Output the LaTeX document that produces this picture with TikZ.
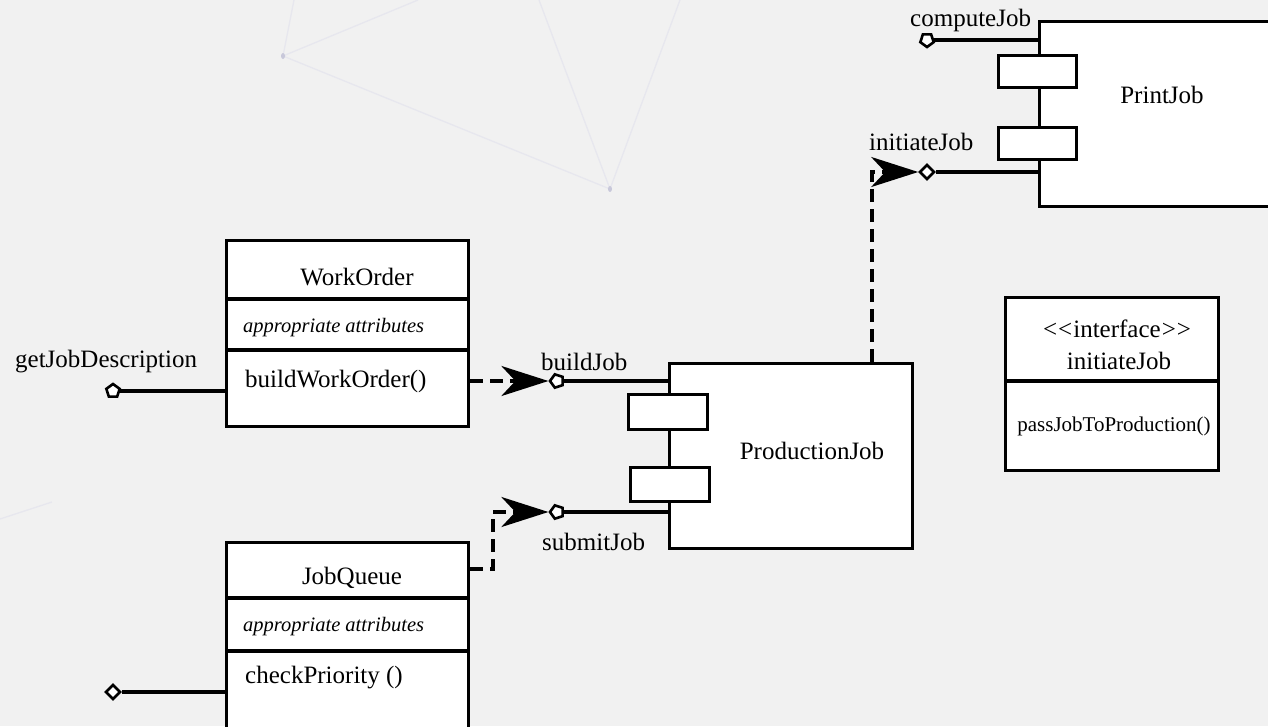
\documentclass[tikz,border=0pt]{standalone}
\usepackage{fontspec}
\setmainfont{Liberation Serif}
\usetikzlibrary{shapes.geometric,arrows.meta,calc}
\definecolor{bg}{RGB}{241,241,241}
\definecolor{faint}{RGB}{231,231,238}
\definecolor{faintdot}{RGB}{200,200,218}
\begin{document}
\begin{tikzpicture}[x=1pt,y=-1pt,
  box/.style={draw=black,fill=white,line width=3.2pt,inner sep=0pt,anchor=north west},
  port/.style={draw=black,fill=white,line width=2.6pt,regular polygon,regular polygon sides=5,minimum size=14pt,inner sep=0pt},
  dport/.style={draw=black,fill=white,line width=2.6pt,diamond,minimum width=15pt,minimum height=15pt,inner sep=0pt},
  wire/.style={line width=3.2pt},
  dep/.style={line width=3.2pt,dash pattern=on 13pt off 7pt,-{Stealth[length=47pt,width=30pt,inset=14pt]}},
  lbl/.style={font=\fontsize{25}{29}\selectfont,inner sep=0pt},
  attr/.style={font=\itshape\fontsize{20.5}{24}\selectfont,inner sep=0pt,anchor=west},
  bgline/.style={draw=faint,line width=1.3pt}
]
\useasboundingbox (0,0) rectangle (1268,726);
\clip (0,0) rectangle (1268,726);
\fill[bg] (0,0) rectangle (1268,726);

% faint background network
\draw[bgline] (283,56) -- (294,0);
\draw[bgline] (283,56) -- (418,0);
\draw[bgline] (283,56) -- (610,189);
\draw[bgline] (539,0) -- (610,189);
\draw[bgline] (680,0) -- (610,189);
\draw[bgline] (0,519) -- (52,502);
\fill[faintdot] (283,56) ellipse (2pt and 3pt);
\fill[faintdot] (610,189) ellipse (2pt and 3pt);

% ports
\node[port] (pGet) at (113,391) {};
\node[dport] (pChk) at (113,692) {};
\node[port,shape border rotate=90] (pBuild) at (557,381) {};
\node[port,shape border rotate=90] (pSub) at (557,512) {};
\node[port,shape border rotate=180] (pComp) at (927,40) {};
\node[dport] (pInit) at (927,172) {};

% class boxes
\node[box,minimum width=242pt,minimum height=186pt] (wo) at (225,239) {};
\draw[wire] ($(wo.north west)+(0,60)$) -- ($(wo.north east)+(0,60)$);
\draw[wire] ($(wo.north west)+(0,111)$) -- ($(wo.north east)+(0,111)$);
\node[lbl] (woT) at (357,277) {WorkOrder};
\node[attr] (woA) at (243,328) {appropriate attributes};
\node[lbl,anchor=west] (woM) at (245,381) {buildWorkOrder()};

\node[box,minimum width=242pt,minimum height=200pt] (jq) at (225,541) {};
\draw[wire] ($(jq.north west)+(0,57)$) -- ($(jq.north east)+(0,57)$);
\draw[wire] ($(jq.north west)+(0,110)$) -- ($(jq.north east)+(0,110)$);
\node[lbl] (jqT) at (352,578) {JobQueue};
\node[attr] (jqA) at (243,627) {appropriate attributes};
\node[lbl,anchor=west] (jqM) at (245,678) {checkPriority ()};

\node[box,minimum width=213pt,minimum height=173pt] (ifc) at (1004,296) {};
\draw[wire] ($(ifc.north west)+(0,85)$) -- ($(ifc.north east)+(0,85)$);
\node[lbl] (ifS) at (1117,329) {<\kern1pt<\kern1pt interface\kern1pt>\kern1pt>};
\node[lbl] (ifT) at (1119,361) {initiateJob};
\node[font=\fontsize{21}{25}\selectfont,inner sep=0pt] (ifM) at (1114,426) {passJobToProduction()};

% components
\node[box,minimum width=243pt,minimum height=185pt] (pj) at (668,362) {};
\node[box,minimum width=79pt,minimum height=35pt] (pj1) at (627,393) {};
\node[box,minimum width=79pt,minimum height=34pt] (pj2) at (629,466) {};
\node[lbl] (pjT) at (812,451) {ProductionJob};

\node[box,minimum width=260pt,minimum height=185pt] (prj) at (1038,20) {};
\node[box,minimum width=78pt,minimum height=32pt] (pr1) at (997,54) {};
\node[box,minimum width=78pt,minimum height=32pt] (pr2) at (997,126) {};
\node[lbl] (prT) at (1162,95) {PrintJob};

% wires
\draw[wire] (pGet) -- (pGet -| wo.west);
\draw[wire] (pChk) -- (pChk -| jq.west);
\draw[wire] (pBuild) -- (pBuild -| pj.west);
\draw[wire] (pSub) -- (pSub -| pj.west);
\draw[wire] (pComp) -- (pComp -| prj.west);
\draw[wire] (pInit) -- (pInit -| prj.west);

% dependencies
\draw[dep] (wo.east |- pBuild) -- (pBuild);
\coordinate (c1) at (493,569);
\draw[dep] (jq.east |- c1) -- (c1) -- (c1 |- pSub) -- (pSub);
\coordinate (c2) at (872,172);
\draw[dep] (c2 |- pj.north) -- (c2) -- (pInit);

% port labels
\node[lbl,anchor=west] (lGet) at (15,362) {getJobDescription};
\node[lbl,anchor=west] (lBuild) at (541,362) {buildJob};
\node[lbl,anchor=west] (lSub) at (542,542) {submitJob};
\node[lbl,anchor=west] (lComp) at (910,20) {computeJob};
\node[lbl,anchor=west] (lInit) at (869,142) {initiateJob};
\end{tikzpicture}
\end{document}
